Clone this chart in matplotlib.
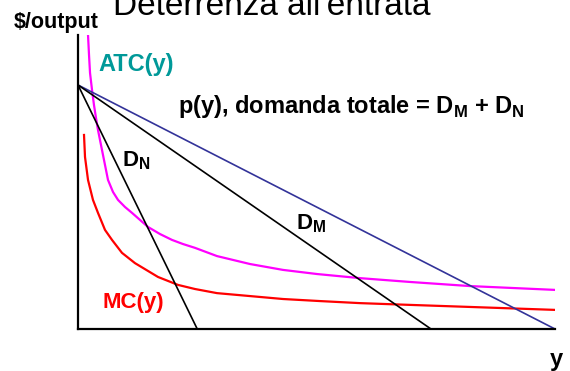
import matplotlib
matplotlib.use("Agg")
import matplotlib.pyplot as plt

plt.rcParams["font.family"] = ["Liberation Sans", "DejaVu Sans"]
plt.rcParams["mathtext.fontset"] = "custom"
plt.rcParams["mathtext.rm"] = "Liberation Sans:bold"
plt.rcParams["mathtext.bf"] = "Liberation Sans:bold"

# ── Dati ─────────────────────────────────────────────────────────────
P_MAX = 83          # intercetta comune delle domande
DN_Q = 25           # quantità massima domanda D_N
DM_Q = 74           # quantità massima domanda D_M
TOT_Q = 100         # domanda totale D_M + D_N

atc_x = [2.10, 2.31, 2.52, 2.94, 3.35, 3.77, 4.19, 4.82, 5.45, 6.29, 7.34,
         8.39, 9.85, 11.32, 13.0, 14.68, 17.19, 19.71, 22.01, 24.53, 29.14,
         36.06, 42.98, 50.10, 59.12, 69.60, 82.18, 100]
atc_y = [100.0, 93.2, 87.1, 81.3, 76.2, 71.8, 67.7, 62.6, 57.5, 50.7, 46.6,
         43.9, 41.5, 39.5, 37.1, 34.7, 32.3, 30.3, 28.9, 27.6, 24.8,
         22.1, 20.1, 18.7, 17.3, 16.0, 14.6, 13.3]

mc_x = [1.26, 1.47, 2.10, 3.14, 4.19, 5.66, 7.13, 9.22, 11.95, 16.77, 20.96,
        24.53, 29.14, 36.06, 42.98, 50.73, 59.12, 69.60, 82.18, 100]
mc_y = [66.0, 58.5, 50.7, 43.9, 39.5, 33.7, 30.3, 25.9, 22.4, 17.7, 15.0,
        13.6, 12.2, 11.2, 10.2, 9.5, 8.8, 8.2, 7.5, 6.5]

# ── Figura ───────────────────────────────────────────────────────────
fig = plt.figure(figsize=(5.7, 3.71), dpi=100)
fig.patch.set_facecolor("white")
ax = fig.add_axes([78 / 570, 1 - 329 / 371, 477 / 570, 294 / 371])
ax.set_xlim(0, 100)
ax.set_ylim(0, 100)
for side in ("top", "right"):
    ax.spines[side].set_visible(False)
for side in ("left", "bottom"):
    ax.spines[side].set_linewidth(1.6)
    ax.spines[side].set_color("black")
ax.set_xticks([])
ax.set_yticks([])

# curve di costo
ax.plot(atc_x, atc_y, color="#FF00FF", lw=1.6, solid_joinstyle="round")
ax.plot(mc_x, mc_y, color="#FF0000", lw=1.6, solid_joinstyle="round")

# domande
ax.plot([0, TOT_Q], [P_MAX, 0], color="#333399", lw=1.2)
ax.plot([0, DM_Q], [P_MAX, 0], color="black", lw=1.2)
ax.plot([0, DN_Q], [P_MAX, 0], color="black", lw=1.2)

# ── Testi ────────────────────────────────────────────────────────────
def px(x, y):
    return x / 570, 1 - y / 371

fig.text(*px(272, 15), "Deterrenza all'entrata", ha="center", va="baseline",
         fontsize=24)
fig.text(*px(14, 28), "$/output", ha="left", va="baseline",
         fontsize=15.5, fontweight="bold")
fig.text(*px(98, 71), "ATC(y)", ha="left", va="baseline",
         fontsize=17, fontweight="bold", color="#009999")
fig.text(*px(102, 308), "MC(y)", ha="left", va="baseline",
         fontsize=16, fontweight="bold", color="#FF0000")
fig.text(*px(178, 113), r"p(y), domanda totale = D$_\mathrm{M}$ + D$_\mathrm{N}$",
         ha="left", va="baseline", fontsize=17, fontweight="bold")
fig.text(*px(122, 166), r"D$_\mathrm{N}$", ha="left", va="baseline",
         fontsize=16, fontweight="bold")
fig.text(*px(296, 229), r"D$_\mathrm{M}$", ha="left", va="baseline",
         fontsize=16, fontweight="bold")
fig.text(*px(556, 366), "y", ha="center", va="baseline",
         fontsize=17, fontweight="bold")

fig.savefig("out.png", dpi=100, facecolor="white")
